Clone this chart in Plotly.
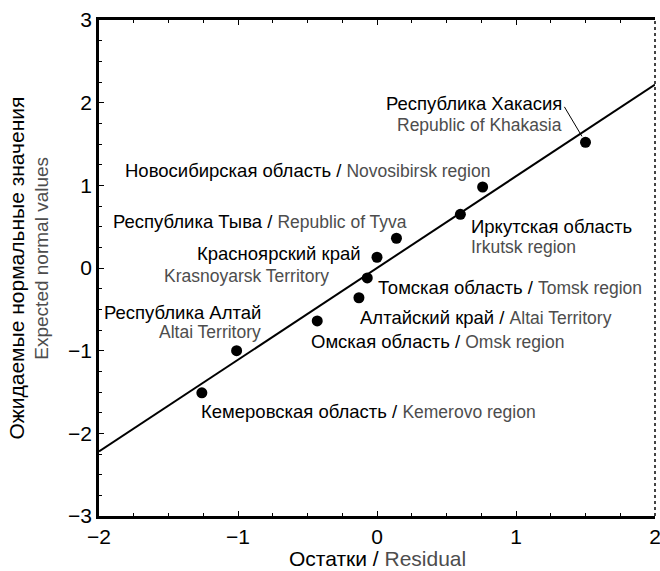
import plotly.graph_objects as go

# ---- data ----
regions_ru = ["Республика Хакасия", "Новосибирская область", "Иркутская область",
              "Республика Тыва", "Красноярский край", "Томская область",
              "Алтайский край", "Омская область", "Республика Алтай",
              "Кемеровская область"]
regions_en = ["Republic of Khakasia", "Novosibirsk region", "Irkutsk region",
              "Republic of Tyva", "Krasnoyarsk Territory", "Tomsk region",
              "Altai Territory", "Omsk region", "Altai Territory",
              "Kemerovo region"]
residual = [1.50, 0.76, 0.60, 0.14, 0.00, -0.07, -0.13, -0.43, -1.01, -1.26]
expected = [1.52, 0.98, 0.65, 0.36, 0.13, -0.12, -0.36, -0.64, -1.00, -1.51]

fit_slope = 1.11
fit_intercept = 0.0
x_range = [-2, 2]
y_range = [-3, 3]
x_ticks = [-2, -1, 0, 1, 2]
y_ticks = [-3, -2, -1, 0, 1, 2, 3]

GRAY = "#4d4d4d"
FONT = "Arial, Liberation Sans, sans-serif"
RU_SIZE = 18.5
EN_SIZE = 17.5

fig = go.Figure()

fig.add_trace(go.Scatter(
    x=x_range, y=[fit_intercept + fit_slope * v for v in x_range],
    mode="lines", line=dict(color="black", width=2), hoverinfo="skip"))

fig.add_trace(go.Scatter(
    x=residual, y=expected, mode="markers",
    marker=dict(color="black", size=11),
    text=regions_ru, hoverinfo="text+x+y"))

# label layout: (index, mode, anchor, x, y)
label_layout = [
    (0, "ru", "right", 1.335, 1.99),
    (0, "en", "right", 1.335, 1.735),
    (1, "one", "left", -1.82, 1.18),
    (2, "ru", "left", 0.67, 0.50),
    (2, "en", "left", 0.67, 0.26),
    (3, "one", "left", -1.91, 0.56),
    (4, "ru", "right", -0.11, 0.17),
    (4, "en", "right", -0.34, -0.10),
    (5, "one", "left", 0.0, -0.23),
    (6, "one", "left", -0.13, -0.60),
    (7, "one", "left", -0.48, -0.89),
    (8, "ru", "right", -0.83, -0.54),
    (8, "en", "right", -0.83, -0.77),
    (9, "one", "left", -1.27, -1.73),
]

annotations = []
for i, mode, anchor, ax_, ay_ in label_layout:
    if mode == "one":
        txt = (f"{regions_ru[i]} / <span style='color:{GRAY};font-size:{EN_SIZE}px'>"
               f"{regions_en[i]}</span>")
        col, size = "black", RU_SIZE
    elif mode == "ru":
        txt, col, size = regions_ru[i], "black", RU_SIZE
    else:
        txt, col, size = regions_en[i], GRAY, EN_SIZE
    annotations.append(dict(
        x=ax_, y=ay_, xref="x", yref="y", text=txt, showarrow=False,
        xanchor=anchor, yanchor="middle", borderpad=0,
        font=dict(family=FONT, size=size, color=col)))

# leader line for Khakasia
annotations.append(dict(
    x=residual[0], y=expected[0], xref="x", yref="y", text="",
    showarrow=True, arrowhead=0, arrowwidth=1, arrowcolor="black",
    ax=-22, ay=-37, standoff=7))

# axis titles
annotations += [
    dict(x=-0.150, y=0.50, xref="paper", yref="paper", text="Ожидаемые нормальные значения",
         textangle=-90, showarrow=False, xanchor="center", yanchor="middle",
         font=dict(family=FONT, size=21, color="black")),
    dict(x=-0.105, y=0.52, xref="paper", yref="paper", text="Expected normal values",
         textangle=-90, showarrow=False, xanchor="center", yanchor="middle",
         font=dict(family=FONT, size=19, color=GRAY)),
    dict(x=0.5, y=-0.0855, xref="paper", yref="paper",
         text=f"Остатки / <span style='color:{GRAY}'>Residual</span>",
         showarrow=False, xanchor="center", yanchor="middle", borderpad=0,
         font=dict(family=FONT, size=21, color="black")),
]

shapes = [dict(type="line", xref="paper", yref="paper", x0=1, x1=1, y0=0, y1=1,
               line=dict(color="#444444", width=2, dash="dot"))]

axis_common = dict(
    showgrid=False, zeroline=False, showline=True, linecolor="black", linewidth=2.5,
    ticks="inside", ticklen=5, tickwidth=1, tickcolor="black", automargin=False,
    ticklabeloverflow="allow",
    tickfont=dict(family=FONT, size=21, color="black"),
    minor=dict(ticks="inside", ticklen=3, dtick=0.25, tickcolor="black", tickwidth=1),
)

fig.update_layout(
    width=660, height=571,
    margin=dict(l=99, r=5, t=20, b=55),
    paper_bgcolor="white", plot_bgcolor="white",
    showlegend=False,
    xaxis=dict(range=x_range, tickvals=x_ticks, mirror="allticks", **axis_common),
    yaxis=dict(range=y_range, tickvals=y_ticks, mirror=False, **axis_common),
    annotations=annotations,
    shapes=shapes,
)

# remove the default 8px page margin so the figure sits at the window origin
fig.write_html("out.html",
               config={"displayModeBar": False},
               post_script="document.body.style.margin='0';document.body.style.overflow='hidden';")
